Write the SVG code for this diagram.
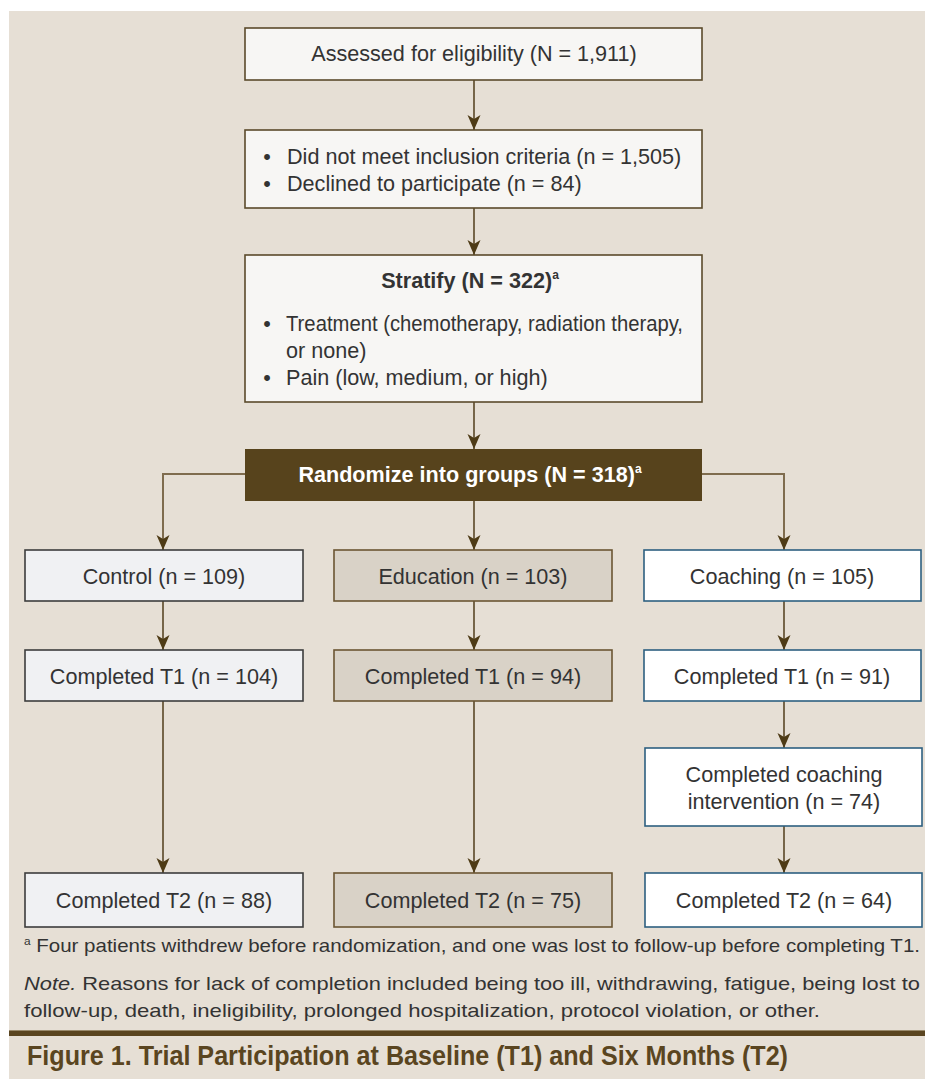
<svg xmlns="http://www.w3.org/2000/svg" width="925" height="1079" viewBox="0 0 925 1079">
<style>
.t{font-family:"Liberation Sans",Arial,sans-serif;font-size:21.6px;fill:#333;}
.b{font-weight:bold;}
.w{fill:#fff;}
.sm{font-size:19px;}
.plain{fill:#F7F6F4;stroke:#5B4A2B;stroke-width:1.6;}
.ctl{fill:#F0F1F3;stroke:#3d3d3d;stroke-width:1.6;}
.edu{fill:#D9D2C7;stroke:#6B5532;stroke-width:1.6;}
.coa{fill:#FFFFFF;stroke:#2D5F80;stroke-width:1.6;}
.c{fill:none;stroke:#5A4726;stroke-width:1.6;}
.cl{fill:none;stroke:#7F6C4E;stroke-width:2;}
</style>
<defs>
<marker id="ah" markerWidth="16" markerHeight="14" refX="15" refY="7" orient="auto" markerUnits="userSpaceOnUse">
<path d="M0,0.5 L15,7 L0,13.5 L4,7 Z" fill="#4E3B16"/>
</marker>
</defs>
<rect x="0" y="0" width="925" height="1079" fill="#fff"/>
<rect x="9" y="11" width="916" height="1068" fill="#E6DFD5"/>

<g id="connectors">
<line class="c" x1="474" y1="80" x2="474" y2="130" marker-end="url(#ah)"/>
<line class="c" x1="474" y1="208" x2="474" y2="255" marker-end="url(#ah)"/>
<line class="c" x1="474" y1="402" x2="474" y2="449" marker-end="url(#ah)"/>
<polyline class="cl" points="245,474 163,474 163,550" marker-end="url(#ah)"/>
<line class="c" x1="474" y1="501" x2="474" y2="550" marker-end="url(#ah)"/>
<polyline class="cl" points="702,474 784,474 784,550" marker-end="url(#ah)"/>
<line class="c" x1="163" y1="601" x2="163" y2="650" marker-end="url(#ah)"/>
<line class="c" x1="474" y1="601" x2="474" y2="650" marker-end="url(#ah)"/>
<line class="c" x1="784" y1="601" x2="784" y2="650" marker-end="url(#ah)"/>
<line class="c" x1="163" y1="701" x2="163" y2="873" marker-end="url(#ah)"/>
<line class="c" x1="474" y1="701" x2="474" y2="873" marker-end="url(#ah)"/>
<line class="c" x1="784" y1="701" x2="784" y2="748" marker-end="url(#ah)"/>
<line class="c" x1="784" y1="826" x2="784" y2="873" marker-end="url(#ah)"/>
</g>

<g id="assessed">
<rect class="plain" x="245" y="28" width="457" height="52"/>
<text class="t" x="474" y="61" text-anchor="middle">Assessed for eligibility (N = 1,911)</text>
</g>

<g id="excluded">
<rect class="plain" x="245" y="130" width="457" height="78"/>
<text class="t" x="267" y="164" text-anchor="middle">•</text>
<text class="t" x="287" y="164">Did not meet inclusion criteria (n = 1,505)</text>
<text class="t" x="267" y="191" text-anchor="middle">•</text>
<text class="t" x="287" y="191">Declined to participate (n = 84)</text>
</g>

<g id="stratify">
<rect class="plain" x="245" y="255" width="457" height="147"/>
<text class="t b" x="470" y="288" text-anchor="middle">Stratify (N = 322)<tspan font-size="12" dy="-9">a</tspan></text>
<text class="t" x="267" y="331" text-anchor="middle">•</text>
<text class="t" x="286" y="331" textLength="397" lengthAdjust="spacingAndGlyphs">Treatment (chemotherapy, radiation therapy,</text>
<text class="t" x="286" y="358">or none)</text>
<text class="t" x="267" y="385" text-anchor="middle">•</text>
<text class="t" x="286" y="385">Pain (low, medium, or high)</text>
</g>

<g id="randomize">
<rect x="245" y="449" width="457" height="52" fill="#57431C"/>
<text class="t b w" x="470" y="482" text-anchor="middle">Randomize into groups (N = 318)<tspan font-size="12" dy="-9">a</tspan></text>
</g>

<g id="control">
<rect class="ctl" x="25" y="550" width="278" height="51"/>
<text class="t" x="164" y="584" text-anchor="middle">Control (n = 109)</text>
</g>
<g id="education">
<rect class="edu" x="334" y="550" width="278" height="51"/>
<text class="t" x="473" y="584" text-anchor="middle">Education (n = 103)</text>
</g>
<g id="coaching">
<rect class="coa" x="644" y="550" width="277" height="51"/>
<text class="t" x="782" y="584" text-anchor="middle">Coaching (n = 105)</text>
</g>

<g id="control-t1">
<rect class="ctl" x="25" y="650" width="278" height="51"/>
<text class="t" x="164" y="684" text-anchor="middle">Completed T1 (n = 104)</text>
</g>
<g id="education-t1">
<rect class="edu" x="334" y="650" width="278" height="51"/>
<text class="t" x="473" y="684" text-anchor="middle">Completed T1 (n = 94)</text>
</g>
<g id="coaching-t1">
<rect class="coa" x="644" y="650" width="277" height="51"/>
<text class="t" x="782" y="684" text-anchor="middle">Completed T1 (n = 91)</text>
</g>

<g id="coaching-intervention">
<rect class="coa" x="645" y="748" width="277" height="78"/>
<text class="t" x="784" y="782" text-anchor="middle">Completed coaching</text>
<text class="t" x="784" y="809" text-anchor="middle">intervention (n = 74)</text>
</g>

<g id="control-t2">
<rect class="ctl" x="25" y="873" width="278" height="54"/>
<text class="t" x="164" y="908" text-anchor="middle">Completed T2 (n = 88)</text>
</g>
<g id="education-t2">
<rect class="edu" x="334" y="873" width="278" height="54"/>
<text class="t" x="473" y="908" text-anchor="middle">Completed T2 (n = 75)</text>
</g>
<g id="coaching-t2">
<rect class="coa" x="645" y="873" width="277" height="54"/>
<text class="t" x="784" y="908" text-anchor="middle">Completed T2 (n = 64)</text>
</g>

<g id="notes">
<text class="t sm" x="24" y="952" textLength="896" lengthAdjust="spacingAndGlyphs"><tspan font-size="11" dy="-7">a</tspan><tspan dy="7"> Four patients withdrew before randomization, and one was lost to follow-up before completing T1.</tspan></text>
<text class="t sm" x="24" y="990" textLength="896" lengthAdjust="spacingAndGlyphs"><tspan font-style="italic">Note.</tspan> Reasons for lack of completion included being too ill, withdrawing, fatigue, being lost to</text>
<text class="t sm" x="24" y="1017" textLength="796" lengthAdjust="spacingAndGlyphs">follow-up, death, ineligibility, prolonged hospitalization, protocol violation, or other.</text>
</g>

<g id="caption">
<rect x="9" y="1030" width="916" height="1.2" fill="#9A8A6C"/>
<rect x="9" y="1031" width="916" height="5" fill="#5A4520"/>
<text x="27" y="1065" font-family="'Liberation Sans',Arial,sans-serif" font-weight="bold" font-size="28" fill="#5A4520" textLength="761" lengthAdjust="spacingAndGlyphs">Figure 1. Trial Participation at Baseline (T1) and Six Months (T2)</text>
</g>
</svg>
